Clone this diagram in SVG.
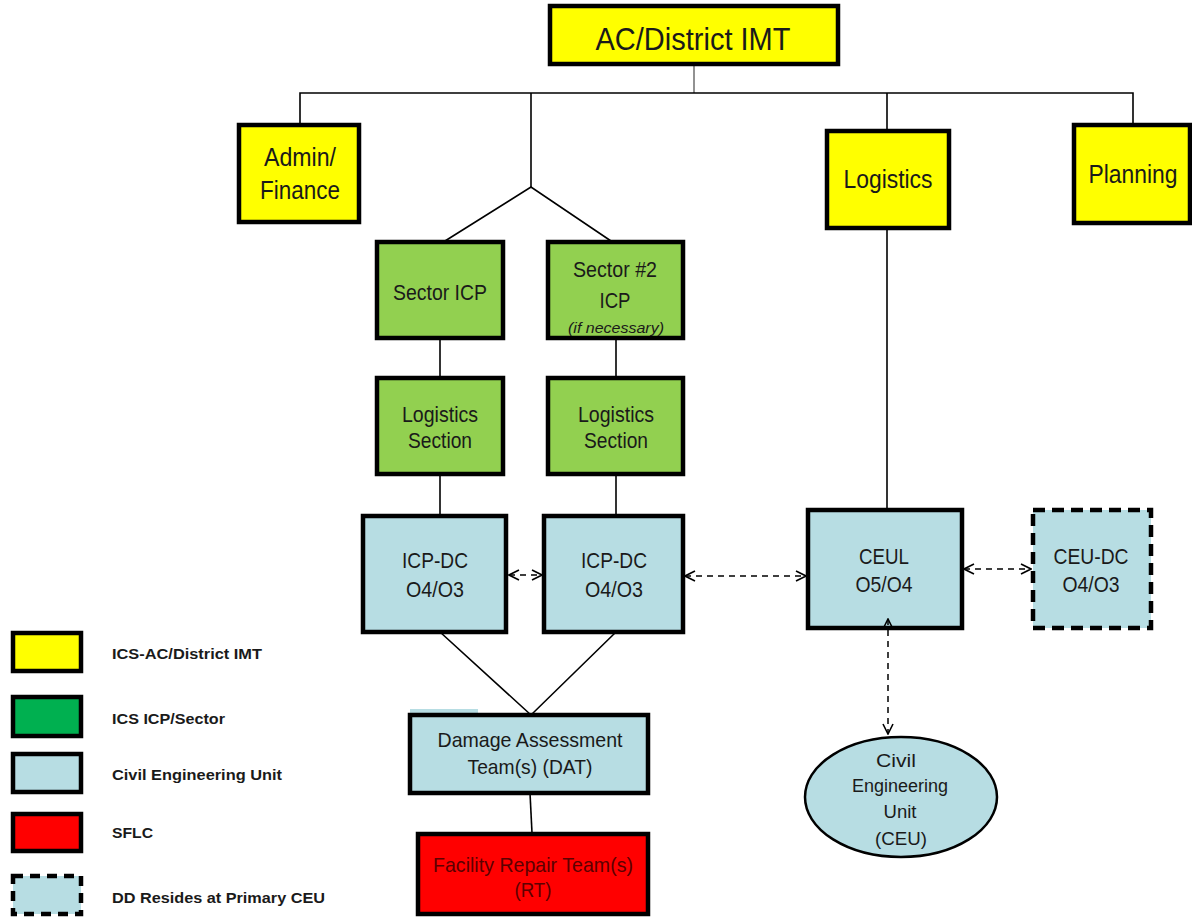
<svg xmlns="http://www.w3.org/2000/svg" width="1192" height="923" viewBox="0 0 1192 923">
<style>
text{font-family:"Liberation Sans",Arial,sans-serif;fill:#1a1a1a;text-anchor:middle}
.box{stroke:#000;stroke-width:4.5}
.y{fill:#FFFF00}.g{fill:#92D050}.b{fill:#B7DDE3}.r{fill:#FF0000}.lg{fill:#00B050}
.dash{stroke-dasharray:12 7}
.ln{stroke:#000;stroke-width:1.6;fill:none}
.dl{stroke:#000;stroke-width:1.5;fill:none;stroke-dasharray:6 5}
.lt{text-anchor:start;font-weight:bold;font-size:15.5px}
</style>
<defs>
<marker id="ah" viewBox="0 0 12 12" refX="11" refY="6" markerWidth="12" markerHeight="12" markerUnits="userSpaceOnUse" orient="auto-start-reverse">
<path d="M1,1 L11,6 L1,11" fill="none" stroke="#000" stroke-width="1.6"/>
</marker>
</defs>
<rect width="1192" height="923" fill="#fff"/>
<g id="connectors">
<line x1="694" y1="64" x2="694" y2="93" stroke="#777" stroke-width="1.6"/>
<polyline class="ln" points="300,124 300,93 1133,93 1133,124"/>
<line class="ln" x1="887" y1="93" x2="887" y2="130"/>
<line class="ln" x1="531" y1="93" x2="531" y2="187"/>
<polyline class="ln" points="445,241 531,187 611,241"/>
<line class="ln" x1="440" y1="338" x2="440" y2="378"/>
<line class="ln" x1="616" y1="338" x2="616" y2="378" stroke="#555"/>
<line class="ln" x1="440" y1="474" x2="440" y2="516"/>
<line class="ln" x1="616" y1="474" x2="616" y2="516" stroke="#555"/>
<line class="ln" x1="887" y1="228" x2="887" y2="509"/>
<polyline class="ln" points="440,632 531,715 616,632"/>
<line class="ln" x1="530" y1="793" x2="532" y2="833" stroke="#444"/>
<line class="dl" x1="509" y1="575" x2="542" y2="575" marker-start="url(#ah)" marker-end="url(#ah)"/>
<line class="dl" x1="685" y1="576" x2="806" y2="576" marker-start="url(#ah)" marker-end="url(#ah)"/>
<line class="dl" x1="964" y1="569" x2="1031" y2="569" marker-start="url(#ah)" marker-end="url(#ah)"/>
</g>
<g id="ac-district-imt"><rect class="box y" x="550" y="6" width="288" height="58"/><text x="693" y="50" font-size="32" textLength="195" lengthAdjust="spacingAndGlyphs">AC/District IMT</text></g>
<g id="admin-finance"><rect class="box y" x="239" y="125" width="120" height="97"/><text x="300" y="166" font-size="25" textLength="72" lengthAdjust="spacingAndGlyphs">Admin/</text><text x="300" y="199" font-size="25" textLength="80" lengthAdjust="spacingAndGlyphs">Finance</text></g>
<g id="logistics"><rect class="box y" x="827" y="131" width="122" height="97"/><text x="888" y="188" font-size="25" textLength="89" lengthAdjust="spacingAndGlyphs">Logistics</text></g>
<g id="planning"><rect class="box y" x="1074" y="125" width="116" height="98"/><text x="1133" y="183" font-size="25" textLength="89" lengthAdjust="spacingAndGlyphs">Planning</text></g>
<g id="sector-icp"><rect class="box g" x="377" y="242" width="126" height="96"/><text x="440" y="300" font-size="22" textLength="94" lengthAdjust="spacingAndGlyphs">Sector ICP</text></g>
<g id="sector2-icp"><rect class="box g" x="548" y="242" width="135" height="96"/><text x="615" y="277" font-size="22" textLength="84" lengthAdjust="spacingAndGlyphs">Sector #2</text><text x="615" y="308" font-size="22" textLength="31" lengthAdjust="spacingAndGlyphs">ICP</text><text x="616" y="333" font-size="15" font-style="italic" textLength="96" lengthAdjust="spacingAndGlyphs">(if necessary)</text></g>
<g id="logistics-section-1"><rect class="box g" x="377" y="378" width="126" height="96"/><text x="440" y="422" font-size="22" textLength="76" lengthAdjust="spacingAndGlyphs">Logistics</text><text x="440" y="448" font-size="22" textLength="64" lengthAdjust="spacingAndGlyphs">Section</text></g>
<g id="logistics-section-2"><rect class="box g" x="548" y="378" width="135" height="96"/><text x="616" y="422" font-size="22" textLength="76" lengthAdjust="spacingAndGlyphs">Logistics</text><text x="616" y="448" font-size="22" textLength="64" lengthAdjust="spacingAndGlyphs">Section</text></g>
<g id="icp-dc-1"><rect class="box b" x="363" y="516" width="143" height="116"/><text x="435" y="568" font-size="22" textLength="66" lengthAdjust="spacingAndGlyphs">ICP-DC</text><text x="435" y="597" font-size="22" textLength="58" lengthAdjust="spacingAndGlyphs">O4/O3</text></g>
<g id="icp-dc-2"><rect class="box b" x="544" y="516" width="139" height="116"/><text x="614" y="568" font-size="22" textLength="66" lengthAdjust="spacingAndGlyphs">ICP-DC</text><text x="614" y="597" font-size="22" textLength="58" lengthAdjust="spacingAndGlyphs">O4/O3</text></g>
<g id="ceul"><rect class="box b" x="808" y="510" width="154" height="118"/><text x="884" y="564" font-size="22" textLength="50" lengthAdjust="spacingAndGlyphs">CEUL</text><text x="884" y="592" font-size="22" textLength="57" lengthAdjust="spacingAndGlyphs">O5/O4</text></g>
<g id="ceu-dc"><rect class="b" x="1033" y="510" width="118" height="118"/><rect class="dash" x="1033" y="510" width="118" height="118" fill="none" stroke="#000" stroke-width="4.5"/><text x="1091" y="564" font-size="22" textLength="75" lengthAdjust="spacingAndGlyphs">CEU-DC</text><text x="1091" y="592" font-size="22" textLength="57" lengthAdjust="spacingAndGlyphs">O4/O3</text></g>
<g id="dat"><rect class="b" x="410" y="709" width="68" height="6"/><rect class="box b" x="410" y="715" width="238" height="78"/><text x="530" y="747" font-size="21" textLength="185" lengthAdjust="spacingAndGlyphs">Damage Assessment</text><text x="530" y="774" font-size="21" textLength="125" lengthAdjust="spacingAndGlyphs">Team(s) (DAT)</text></g>
<g id="rt"><rect class="box r" x="418" y="834" width="230" height="80"/><text x="533" y="872" font-size="21" style="fill:#5c0000" textLength="200" lengthAdjust="spacingAndGlyphs">Facility Repair Team(s)</text><text x="533" y="897" font-size="21" style="fill:#5c0000" textLength="37" lengthAdjust="spacingAndGlyphs">(RT)</text></g>
<g id="ceu"><ellipse cx="901" cy="797" rx="96" ry="60" fill="#B7DDE3" stroke="#000" stroke-width="2.5"/><text x="896" y="767" font-size="18" textLength="40" lengthAdjust="spacingAndGlyphs">Civil</text><text x="900" y="792" font-size="18" textLength="96" lengthAdjust="spacingAndGlyphs">Engineering</text><text x="900" y="818" font-size="18" textLength="33" lengthAdjust="spacingAndGlyphs">Unit</text><text x="901" y="845" font-size="18" textLength="52" lengthAdjust="spacingAndGlyphs">(CEU)</text></g>
<g id="connectors-front">
<line class="dl" x1="888" y1="619" x2="888" y2="734" marker-start="url(#ah)" marker-end="url(#ah)"/>
</g>
<g id="legend">
<rect class="box y" x="13" y="633" width="68" height="38"/><text class="lt" x="112" y="659" textLength="150" lengthAdjust="spacingAndGlyphs">ICS-AC/District IMT</text>
<rect class="box lg" x="13" y="697" width="68" height="39"/><text class="lt" x="112" y="724" textLength="113" lengthAdjust="spacingAndGlyphs">ICS ICP/Sector</text>
<rect class="box b" x="13" y="754" width="68" height="38"/><text class="lt" x="112" y="780" textLength="170" lengthAdjust="spacingAndGlyphs">Civil Engineering Unit</text>
<rect class="box r" x="13" y="814" width="68" height="37"/><text class="lt" x="112" y="838" textLength="41" lengthAdjust="spacingAndGlyphs">SFLC</text>
<rect class="b" x="13" y="876" width="68" height="38"/><rect x="13" y="876" width="68" height="38" fill="none" stroke="#000" stroke-width="4.5" stroke-dasharray="10 7"/><text class="lt" x="112" y="903" textLength="213" lengthAdjust="spacingAndGlyphs">DD Resides at Primary CEU</text>
</g>
</svg>
